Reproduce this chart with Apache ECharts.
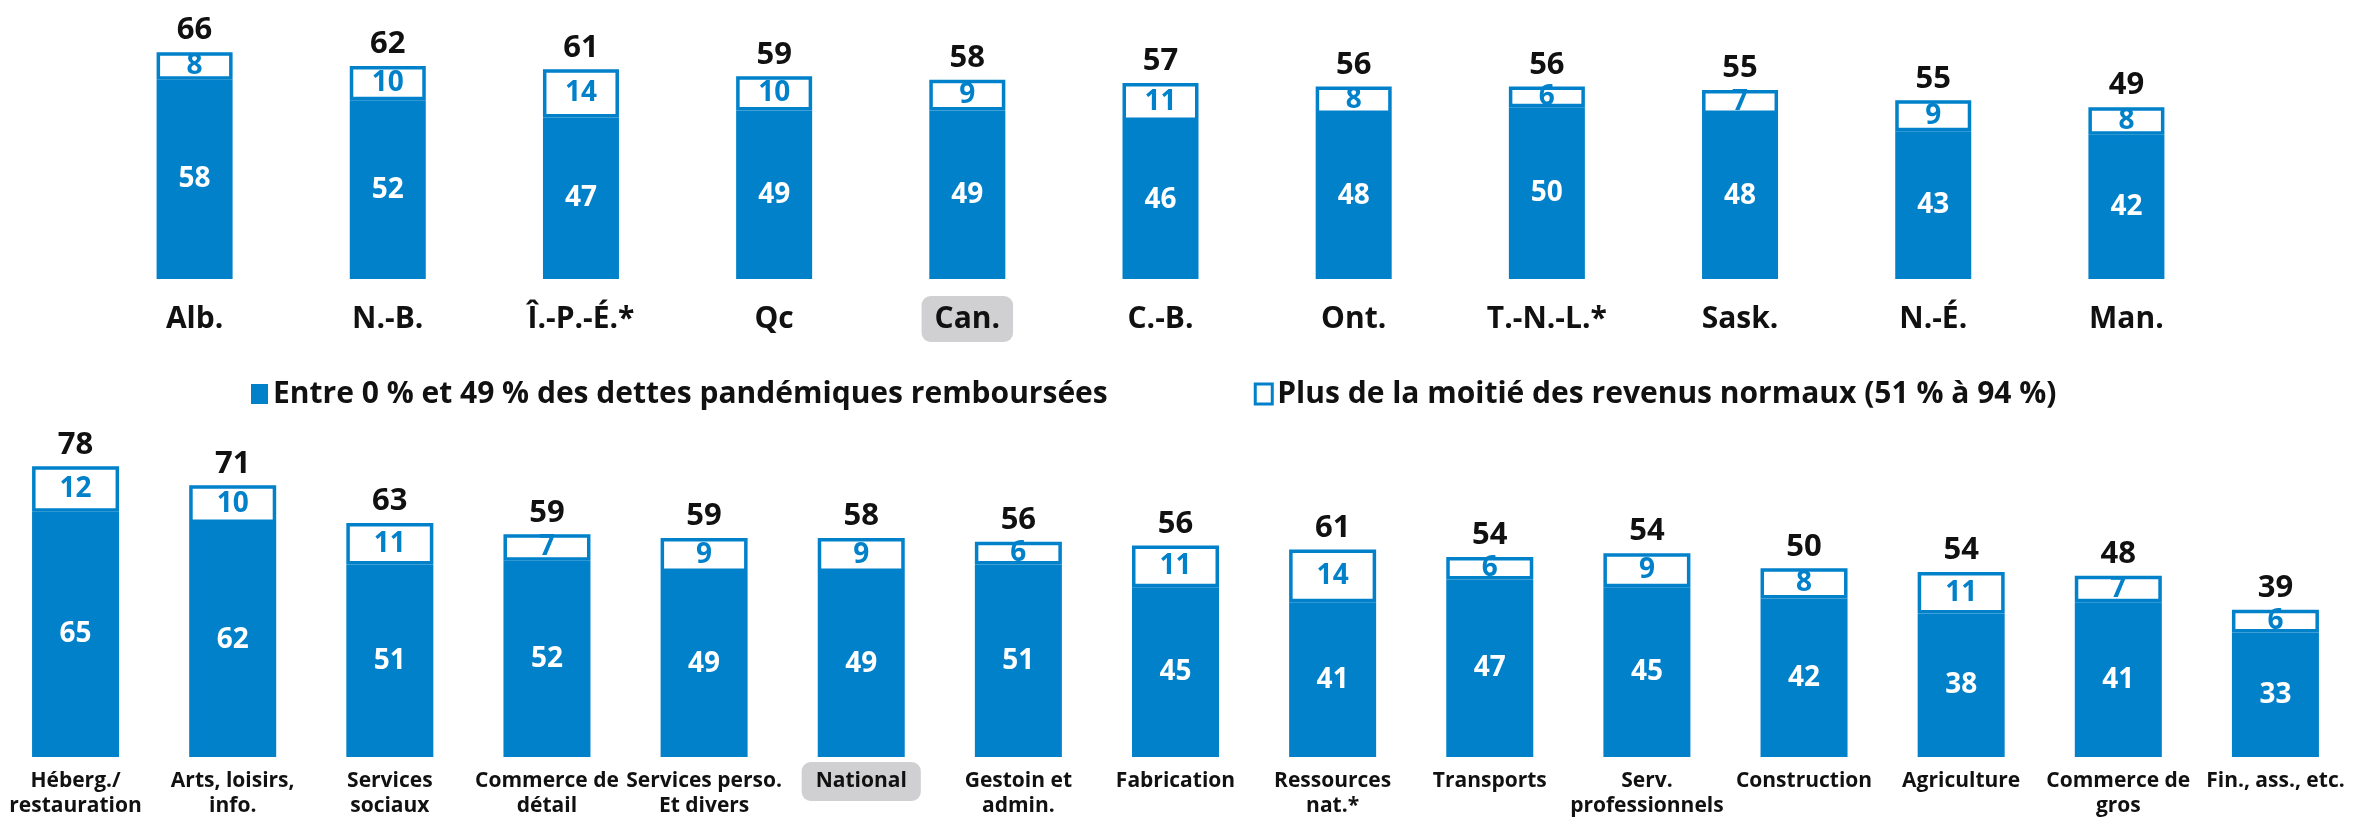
<!DOCTYPE html>
<html>
<head>
<meta charset="utf-8">
<script src="https://cdn.jsdelivr.net/npm/echarts@6/dist/echarts.min.js"></script>
<style>
  html, body { margin: 0; padding: 0; background: #fff; }
  #chart { width: 2371px; height: 819px; }
</style>
</head>
<body>
<div id="chart"></div>
<script>
// provinces (top panel)
const provinces = ['Alb.', 'N.-B.', 'Î.-P.-É.*', 'Qc', 'Can.', 'C.-B.', 'Ont.', 'T.-N.-L.*', 'Sask.', 'N.-É.', 'Man.'];
const provLow = [58, 52, 47, 49, 49, 46, 48, 50, 48, 43, 42];
const provHigh = [8, 10, 14, 10, 9, 11, 8, 6, 7, 9, 8];
const provTotal = [66, 62, 61, 59, 58, 57, 56, 56, 55, 55, 49];

// industries (bottom panel)
const industries = ['Héberg./\nrestauration', 'Arts, loisirs,\ninfo.', 'Services\nsociaux', 'Commerce de\ndétail',
  'Services perso.\nEt divers', 'National', 'Gestoin et\nadmin.', 'Fabrication', 'Ressources\nnat.*', 'Transports',
  'Serv.\nprofessionnels', 'Construction', 'Agriculture', 'Commerce de\ngros', 'Fin., ass., etc.'];
const indLow = [65, 62, 51, 52, 49, 49, 51, 45, 41, 47, 45, 42, 38, 41, 33];
const indHigh = [12, 10, 11, 7, 9, 9, 6, 11, 14, 6, 9, 8, 11, 7, 6];
const indTotal = [78, 71, 63, 59, 59, 58, 56, 56, 61, 54, 54, 50, 54, 48, 39];

const nameLow = 'Entre 0 % et 49 % des dettes pandémiques remboursées';
const nameHigh = 'Plus de la moitié des revenus normaux (51 % à 94 %)';

const BLUE = '#0081CA';
const FONT = "'Open Sans', sans-serif";

const chart = echarts.init(document.getElementById('chart'));

// builds the 3 stacked series of one panel
function panelSeries(idx, low, high, total, barW, fs) {
  const stack = 's' + idx;
  return [
    {
      name: nameLow, type: 'bar', stack, xAxisIndex: idx, yAxisIndex: idx,
      barWidth: barW, data: low,
      itemStyle: { color: BLUE, borderColor: BLUE, borderWidth: 3.5 },
      label: { show: true, position: 'inside', color: '#fff', fontSize: fs, fontWeight: 'bold', fontFamily: FONT }
    },
    {
      name: nameHigh, type: 'bar', stack, xAxisIndex: idx, yAxisIndex: idx,
      barWidth: barW, data: high,
      itemStyle: { color: '#fff', borderColor: BLUE, borderWidth: 3.5 },
      label: { show: true, position: 'inside', color: BLUE, fontSize: fs, fontWeight: 'bold', fontFamily: FONT }
    },
    {
      // empty bar on top of the stack, only carries the total label
      name: 'total', type: 'bar', stack, xAxisIndex: idx, yAxisIndex: idx,
      barWidth: barW, data: total.map(() => 0),
      itemStyle: { color: 'transparent' },
      label: {
        show: true, position: 'top', distance: 6, color: '#111',
        fontSize: 31, fontWeight: 'bold', fontFamily: FONT,
        formatter: p => total[p.dataIndex]
      }
    }
  ];
}

function catLabel(hl, fs, lh, pad) {
  return {
    interval: 0, margin: 0, color: '#111', fontFamily: FONT, fontWeight: 'bold', fontSize: fs, lineHeight: lh,
    formatter: v => (v === hl ? '{hl|' + v + '}' : '{n|' + v + '}'),
    rich: {
      n: { fontSize: fs, lineHeight: lh, fontWeight: 'bold', fontFamily: FONT, color: '#111', padding: pad },
      hl: { fontSize: fs, lineHeight: lh, fontWeight: 'bold', fontFamily: FONT, color: '#111', padding: pad,
            backgroundColor: '#D0D0D2', borderRadius: 9 }
    }
  };
}

const option = {
  animation: false,
  legend: {
    left: 246, top: 374, itemGap: 146, itemWidth: 17, itemHeight: 20, icon: 'rect',
    textStyle: { fontSize: 30, fontWeight: 'bold', fontFamily: FONT, color: '#111' },
    data: [
      { name: nameLow, itemStyle: { color: BLUE, borderWidth: 0 } },
      { name: nameHigh, itemStyle: { color: '#fff', borderColor: BLUE, borderWidth: 3 } }
    ]
  },
  grid: [
    { left: 98, width: 2125, top: 4, height: 275, outerBoundsMode: 'none' },
    { left: -3, width: 2357, top: 455, height: 302, outerBoundsMode: 'none' }
  ],
  xAxis: [
    { type: 'category', gridIndex: 0, data: provinces, axisLine: { show: false }, axisTick: { show: false },
      axisLabel: Object.assign(catLabel('Can.', 30, 32, [8, 13]), { margin: 24 }) },
    { type: 'category', gridIndex: 1, data: industries, axisLine: { show: false }, axisTick: { show: false },
      axisLabel: Object.assign(catLabel('National', 21, 25, [9, 14]), { margin: 12 }) }
  ],
  yAxis: [
    { type: 'value', gridIndex: 0, min: 0, max: 80, show: false },
    { type: 'value', gridIndex: 1, min: 0, max: 80, show: false }
  ],
  series: [].concat(
    panelSeries(0, provLow, provHigh, provTotal, 76, 28),
    panelSeries(1, indLow, indHigh, indTotal, 87, 28)
  )
};

chart.setOption(option);
</script>
</body>
</html>
